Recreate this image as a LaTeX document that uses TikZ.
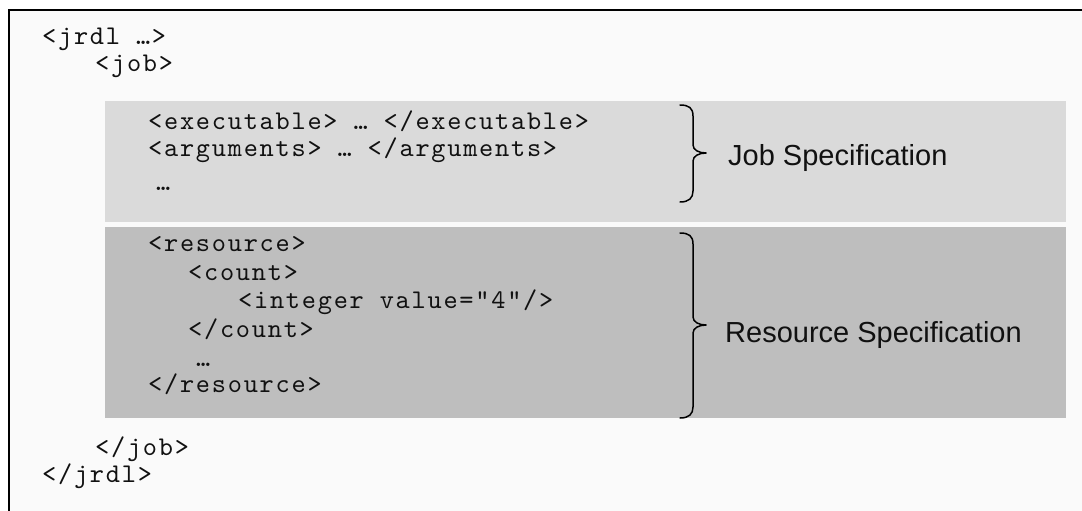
\documentclass[tikz,border=0pt]{standalone}
\usepackage{fontspec}
\setmonofont{lmmono10-regular.otf}[LetterSpace=6.5]
\setsansfont{Liberation Sans}
\definecolor{pagebg}{HTML}{FAFAFA}
\definecolor{jobfill}{HTML}{DADADA}
\definecolor{resfill}{HTML}{BEBEBE}
\definecolor{ink}{HTML}{111111}
\tikzset{
  code/.style={anchor=base west, inner sep=0pt, text=ink,
    font=\fontsize{27}{30}\selectfont\ttfamily},
  speclabel/.style={anchor=base west, inner sep=0pt, text=ink,
    font=\fontsize{29}{33}\selectfont\sffamily},
  bracepath/.style={draw=black, line width=1.5pt, line cap=round, line join=round},
  frameline/.style={draw=black, line width=2pt},
}
\begin{document}
\begin{tikzpicture}[x=1pt, y=-1pt]
  \useasboundingbox (0,0) rectangle (1082,511);
  \fill[white] (0,0) rectangle (1082,511);
  % page area and its frame (open at right and bottom)
  \fill[pagebg] (9,10) rectangle (1082,511);
  \draw[frameline] (9,511) -- (9,10) -- (1082,10);

  % shaded bands
  \fill[jobfill] (105,101) rectangle (1066,222);
  \fill[resfill] (105,227) rectangle (1066,418);

  % code listing
  \node[code] (jrdl)  at (42,45)  {<jrdl …>};
  \node[code] (job)   at (95,72)  {<job>};
  \node[code] (exe)   at (148,129) {<executable> … </executable>};
  \node[code] (args)  at (148,156) {<arguments> … </arguments>};
  \node[code] (jdots) at (156,190) {…};
  \node[code] (res)   at (148,251) {<resource>};
  \node[code] (cnt)   at (188,280) {<count>};
  \node[code] (int)   at (238,308) {<integer value="4"/>};
  \node[code] (cntc)  at (188,337) {</count>};
  \node[code] (rdots) at (196,366) {…};
  \node[code] (resc)  at (148,392) {</resource>};
  \node[code] (jobc)  at (95,455) {</job>};
  \node[code] (jrdlc) at (42,482) {</jrdl>};

  % braces
  \draw[bracepath] (680,105) .. controls (689,105) and (693,108) .. (693,116)
    -- (693,145) .. controls (693,150) and (699,153) .. (706,153)
    .. controls (699,153) and (693,156) .. (693,161)
    -- (693,191) .. controls (693,198) and (689,202) .. (680,202);
  \draw[bracepath] (680,233) .. controls (689,233) and (693,236) .. (693,244)
    -- (693,317) .. controls (693,322) and (699,325) .. (706,325)
    .. controls (699,325) and (693,328) .. (693,333)
    -- (693,407) .. controls (693,414) and (689,418) .. (680,418);

  % labels
  \node[speclabel] (jobspec) at (728,165) {Job Specification};
  \node[speclabel] (resspec) at (725,342) {Resource Specification};
\end{tikzpicture}
\end{document}
